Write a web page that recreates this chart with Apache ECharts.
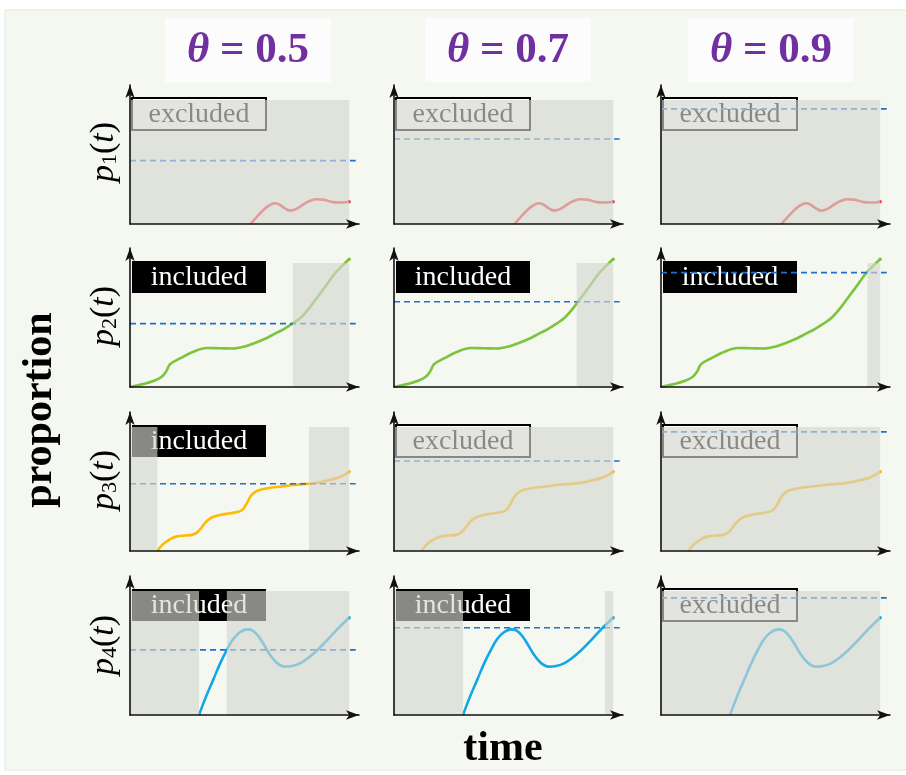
<!DOCTYPE html>
<html><head><meta charset="utf-8">
<script src="https://cdn.jsdelivr.net/npm/echarts@6/dist/echarts.min.js"></script>
<style>html,body{margin:0;padding:0;background:#fff}#c{width:906px;height:775px}</style>
</head><body><div id="c"></div>
<script>
// ---------------- data ----------------
const thetaValues = ['0.5', '0.7', '0.9'];
const rowLabels = ['1', '2', '3', '4'];
const curveP1 = [[55,0],[58,6],[61,11.5],[63.5,15],[66,16.7],[68,15.8],[70.5,12.8],[73,10.8],[75.5,11.8],[78.5,15],[81.5,18.2],[85,20],[88.5,19.6],[92.5,17.6],[96,17.3],[100,18]];
const curveP2 = [[0,0],[6,2.4],[11,5],[14.5,8.2],[16.5,12.5],[18.3,18.4],[22.8,23],[28.9,28.4],[35,31.4],[41,31.2],[47,31],[52,32.5],[57,35.5],[62.4,39.5],[66,42.8],[70,46.5],[74,50.8],[78,56],[82,64],[86,73.5],[90,83],[93.5,91.5],[97,98],[100,103]];
const curveP3 = [[12.5,0],[14.5,4.5],[16.8,7.8],[19,10.2],[21.5,11.8],[25,12.5],[28.2,13],[30.5,14.8],[32.5,18.5],[34.5,23],[37,26.8],[41,29],[45.7,30.4],[49.5,31.6],[51.5,33.5],[53.3,38.4],[55,44],[57,47.5],[59.5,49.3],[63,50.6],[67,51.6],[74.6,53.2],[81.7,54.2],[87,55.5],[91.3,57.2],[95,59],[98,61.5],[100,63.9]];
const curveP4 = [[31.5,0],[34.5,14],[38,28.5],[41,41],[44.2,52.4],[47,61],[50,66.5],[53.5,69],[56,68],[58.6,63.5],[61,57],[64,48.3],[67,42],[70.5,39],[74,39.5],[77.6,41.6],[81,45.5],[85.3,52],[89,58.5],[92.8,65.8],[96.5,72.5],[100,78.4]];
// threshold line per row (p1..p4) and column (theta)
const thresholds = [
  [51, 68.5, 92.7],
  [51, 68.7, 92.1],
  [54.2, 72.5, 96],
  [52.4, 70.3, 94.3]
];
// excluded time spans [from, to] per row and column
const excludedSpans = [
  [[[0,100]], [[0,100]], [[0,100]]],
  [[[74.3,100]], [[83.4,100]], [[94.2,100]]],
  [[[0,12.5],[81.7,100]], [[0,100]], [[0,100]]],
  [[[0,31.5],[44.2,100]], [[0,31.5],[96.3,100]], [[0,100]]]
];
const statusLabels = [
  ['excluded', 'excluded', 'excluded'],
  ['included', 'included', 'included'],
  ['included', 'excluded', 'excluded'],
  ['included', 'included', 'excluded']
];
const thresholdEnd = 103;

// ---------------- layout / style ----------------
const curves = [curveP1, curveP2, curveP3, curveP4];
const curveColors = ['#f03a3a', '#7cc43c', '#ffbb00', '#12a8e6'];
const colLeft = [130, 394, 661];
const rowTop = [85, 248, 412, 576];
const GW = 229, GH = 139;
const XMAX = 104.5, YMAX = 112;
const serif = '"Liberation Serif","DejaVu Serif",serif';

const grid = [], xAxis = [], yAxis = [], series = [];
let gi = 0;
for (let r = 0; r < 4; r++) {
  for (let c = 0; c < 3; c++) {
    grid.push({left: colLeft[c], top: rowTop[r], width: GW, height: GH});
    const axisCommon = {
      gridIndex: gi, type: 'value', min: 0, z: 10,
      axisLine: {show: true, onZero: false, symbol: ['none', 'arrow'], symbolSize: [7, 13],
                 lineStyle: {color: '#111', width: 1.6}},
      axisTick: {show: false}, axisLabel: {show: false}, splitLine: {show: false}
    };
    xAxis.push(Object.assign({}, axisCommon, {max: XMAX}));
    yAxis.push(Object.assign({}, axisCommon, {max: YMAX}));
    const data = curves[r];
    const last = data.length - 1;
    series.push({
      type: 'line', xAxisIndex: gi, yAxisIndex: gi, data: data, smooth: 0.35, z: 2,
      showSymbol: true, symbol: 'circle',
      symbolSize: (v, p) => p.dataIndex === last ? 3.5 : 0,
      itemStyle: {color: curveColors[r]},
      lineStyle: {color: curveColors[r], width: 2.6}, silent: true, animation: false
    });
    const st = statusLabels[r][c];
    series.push({
      type: 'custom', xAxisIndex: gi, yAxisIndex: gi, z: 3, clip: false, silent: true, animation: false,
      data: [[0, 100]],
      renderItem: (params, api) => {
        const cs = params.coordSys;
        const top = api.coord([0, 100])[1] - 2;
        const x = cs.x + 2;
        const inc = st === 'included';
        return {type: 'group', children: [
          {type: 'rect', shape: {x: x, y: top, width: 134, height: 32},
           style: {fill: inc ? '#000' : '#fdfdfd', stroke: '#000', lineWidth: inc ? 0 : 2}},
          {type: 'text', x: x + 67, y: top + 17,
           style: {text: st, align: 'center', verticalAlign: 'middle',
                   fill: inc ? '#fff' : '#000', fontSize: 28, fontFamily: serif}}
        ]};
      }
    });
    const th = thresholds[r][c];
    series.push({
      type: 'line', xAxisIndex: gi, yAxisIndex: gi, z: 4, silent: true, animation: false,
      data: [[0, th], [thresholdEnd, th]], showSymbol: false, symbol: 'none',
      lineStyle: {color: '#1f6fd0', width: 1.7, type: [6, 4]}
    });
    series.push({
      type: 'custom', xAxisIndex: gi, yAxisIndex: gi, z: 5, clip: false, silent: true, animation: false,
      data: excludedSpans[r][c],
      renderItem: (params, api) => {
        const p0 = api.coord([api.value(0), 100]);
        const p1 = api.coord([api.value(1), 0]);
        return {type: 'rect', shape: {x: p0[0], y: p0[1], width: p1[0] - p0[0], height: p1[1] - p0[1]},
                style: {fill: 'rgba(212,212,208,0.64)'}};
      }
    });
    gi++;
  }
}

const graphic = [
  {type: 'rect', z: -5, shape: {x: 5, y: 10, width: 906, height: 760},
   style: {fill: '#f4f8f1', stroke: '#dfe9d9', lineWidth: 1}}
];
const headerCenters = [248, 508, 771];
thetaValues.forEach((t, i) => {
  graphic.push({type: 'rect', z: -4, shape: {x: headerCenters[i] - 83, y: 18, width: 166, height: 64},
                style: {fill: '#fbfcfb'}});
  graphic.push({type: 'text', z: -3, x: headerCenters[i], y: 51,
    style: {text: '{g|θ}{n| = ' + t + '}', align: 'center', verticalAlign: 'middle',
      rich: {
        g: {fontFamily: serif, fontStyle: 'italic', fontWeight: 'bold', fontSize: 43, fill: '#7030a0'},
        n: {fontFamily: serif, fontWeight: 'bold', fontSize: 43, fill: '#7030a0'}
      }}});
});
const rowLabelCenters = [152, 316, 480, 645];
rowLabels.forEach((s, i) => {
  graphic.push({type: 'text', z: -3, x: 104, y: rowLabelCenters[i], rotation: Math.PI / 2,
    style: {text: '{i|p}{s|' + s + '}{n|(}{i|t}{n|)}', align: 'center', verticalAlign: 'middle',
      rich: {
        i: {fontFamily: serif, fontStyle: 'italic', fontSize: 34, fill: '#000'},
        n: {fontFamily: serif, fontSize: 34, fill: '#000'},
        s: {fontFamily: serif, fontSize: 22, fill: '#000', verticalAlign: 'bottom', lineHeight: 30}
      }}});
});
graphic.push({type: 'text', z: -3, x: 40, y: 410, rotation: Math.PI / 2,
  style: {text: 'proportion', align: 'center', verticalAlign: 'middle',
          fontFamily: serif, fontWeight: 'bold', fontSize: 42, fill: '#000'}});
graphic.push({type: 'text', z: -3, x: 503, y: 749,
  style: {text: 'time', align: 'center', verticalAlign: 'middle',
          fontFamily: serif, fontWeight: 'bold', fontSize: 42, fill: '#000'}});

const chart = echarts.init(document.getElementById('c'), null, {renderer: 'canvas'});
chart.setOption({
  backgroundColor: '#ffffff', animation: false,
  grid: grid, xAxis: xAxis, yAxis: yAxis, series: series, graphic: graphic
});
</script>
</body></html>
